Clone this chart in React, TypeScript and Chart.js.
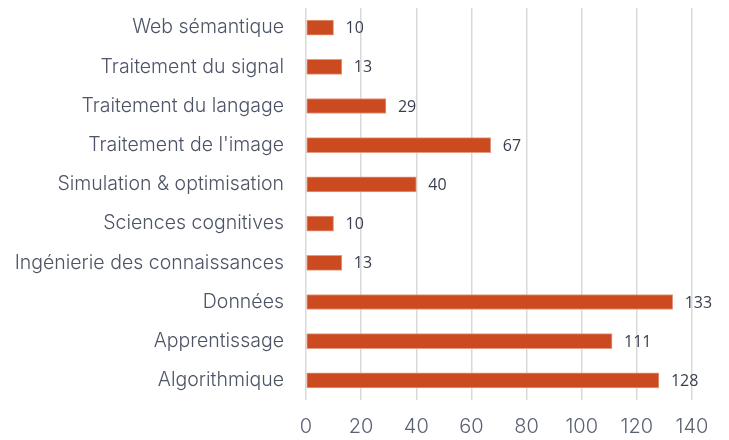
import React, { useEffect, useRef } from "react";
import { Chart, registerables } from "chart.js";

Chart.register(...registerables);

const categories = [
  "Web sémantique",
  "Traitement du signal",
  "Traitement du langage",
  "Traitement de l'image",
  "Simulation & optimisation",
  "Sciences cognitives",
  "Ingénierie des connaissances",
  "Données",
  "Apprentissage",
  "Algorithmique",
];
const values = [10, 13, 29, 67, 40, 10, 13, 133, 111, 128];
const xTicks = [0, 20, 40, 60, 80, 100, 120, 140];

const labelFont = "Inter";

const valueLabels = {
  id: "valueLabels",
  afterDatasetsDraw(chart: any) {
    const ctx = chart.ctx;
    const meta = chart.getDatasetMeta(0);
    ctx.save();
    ctx.font = "400 16px 'Open Sans'";
    ctx.fillStyle = "#383f4f";
    ctx.textAlign = "left";
    ctx.textBaseline = "middle";
    meta.data.forEach((bar: any, i: number) => {
      ctx.fillText(String(values[i]), bar.x + 12, bar.y + 1);
    });
    ctx.restore();
  },
};

export default function App() {
  const ref = useRef<HTMLCanvasElement>(null);
  useEffect(() => {
    const chart = new Chart(ref.current!, {
      type: "bar",
      data: {
        labels: categories,
        datasets: [
          {
            data: values,
            backgroundColor: "#cc4a1f",
            borderColor: "#e39a80",
            borderWidth: 1,
            borderSkipped: false,
            barThickness: 15,
          },
        ],
      },
      options: {
        indexAxis: "y",
        responsive: false,
        animation: false,
        layout: { padding: { top: 8, right: 37, left: 0, bottom: 0 } },
        plugins: {
          legend: { display: false },
          tooltip: { enabled: false },
        },
        scales: {
          x: {
            min: 0,
            max: 140,
            afterBuildTicks: (scale: any) => {
              scale.ticks = xTicks.map((v) => ({ value: v }));
            },
            afterFit: (scale: any) => {
              scale.height = 40;
              scale.paddingLeft = 0;
              scale.paddingRight = 0;
            },
            grid: { color: "#d9d9d9", lineWidth: 1.5, drawTicks: false },
            border: { display: false },
            ticks: {
              padding: 15,
              color: "#5a6172",
              font: { family: labelFont, size: 20, weight: "300" },
            },
          },
          y: {
            afterFit: (scale: any) => {
              scale.width = 306;
              scale.paddingTop = 0;
              scale.paddingBottom = 0;
            },
            grid: { display: false, drawTicks: false },
            border: { display: false },
            ticks: {
              padding: 22,
              color: "#4d5466",
              font: { family: labelFont, size: 19.5, weight: "300" },
            },
          },
        },
      },
      plugins: [valueLabels],
    });
    return () => chart.destroy();
  }, []);
  return (
    <div style={{ position: "fixed", left: 0, top: 0, width: 729, height: 440, background: "#fff" }}>
      <canvas ref={ref} width={729} height={440} />
    </div>
  );
}
